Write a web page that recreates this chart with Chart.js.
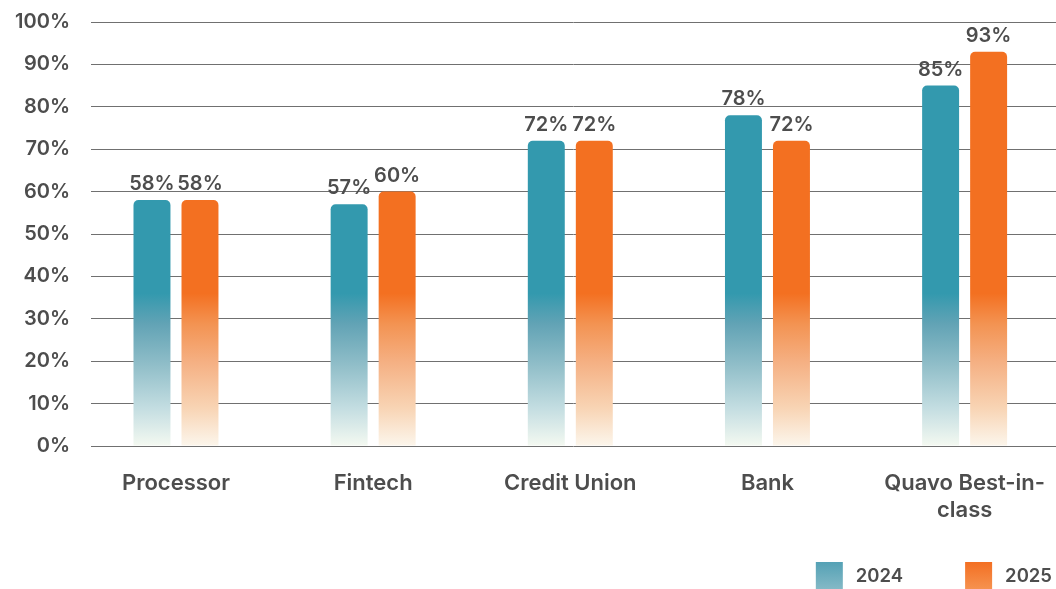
<!DOCTYPE html>
<html>
<head>
<meta charset="utf-8">
<script src="https://cdn.jsdelivr.net/npm/chart.js@4"></script>
<style>
  html, body { margin: 0; padding: 0; background: #fff; }
  #wrap { width: 1056px; height: 589px; position: relative; }
</style>
</head>
<body>
<div id="wrap"><canvas id="rateChart"></canvas></div>
<script>
const categories = ['Processor', 'Fintech', 'Credit Union', 'Bank', ['Quavo Best-in-', 'class']];
const years = ['2024', '2025'];
const values2024 = [58, 57, 72, 78, 85];
const values2025 = [58, 60, 72, 72, 93];
const yTicks = [0, 10, 20, 30, 40, 50, 60, 70, 80, 90, 100];

const TEXT = '#4d4d4d';
const FONT = 'Inter, "Liberation Sans", sans-serif';

// teal / orange fades towards the base of the plot
const fades = {
    teal: [[0, '#f4f9f1'], [0.25, '#c3dde1'], [0.55, '#8dbcc7'], [0.8, '#62a3b5'], [1, '#3399ae']],
    orange: [[0, '#fcf6ec'], [0.25, '#f8d4b4'], [0.55, '#f5b083'], [0.8, '#f39352'], [1, '#f37021']]
};
const keyColors = {
    teal: ['#54a1b5', '#84b9c6'],
    orange: ['#f36f22', '#f6924f']
};

function barFill(name) {
    return (c) => {
        const chart = c.chart;
        const area = chart.chartArea;
        if (!area) return fades[name][4][1];
        const y = chart.scales.y;
        const g = chart.ctx.createLinearGradient(0, y.getPixelForValue(0), 0, y.getPixelForValue(36));
        fades[name].forEach(([p, col]) => g.addColorStop(p, col));
        return g;
    };
}

// percentages above each bar
const valueLabels = {
    id: 'valueLabels',
    afterDatasetsDraw(chart) {
        const ctx = chart.ctx;
        ctx.save();
        ctx.font = '600 20px ' + FONT;
        ctx.fillStyle = TEXT;
        ctx.textAlign = 'center';
        ctx.textBaseline = 'alphabetic';
        chart.data.datasets.forEach((ds, i) => {
            chart.getDatasetMeta(i).data.forEach((bar, j) => {
                ctx.fillText(ds.data[j].y + '%', bar.x, bar.y - 10);
            });
        });
        ctx.restore();
    }
};

// legend keys in the bottom right corner
const cornerLegend = {
    id: 'cornerLegend',
    afterDraw(chart) {
        const ctx = chart.ctx;
        const box = 27;
        ctx.save();
        ctx.font = '600 18.5px ' + FONT;
        ctx.textBaseline = 'middle';
        ctx.textAlign = 'left';
        let right = chart.width - 4;
        const items = chart.data.datasets.map(ds => ds).reverse();
        items.forEach((ds) => {
            const w = ctx.measureText(ds.label).width;
            const textX = right - w;
            const boxX = textX - 13 - box;
            const top = chart.height - box;
            const cols = keyColors[ds.key];
            const g = ctx.createLinearGradient(0, top, 0, top + box);
            g.addColorStop(0, cols[0]);
            g.addColorStop(1, cols[1]);
            ctx.fillStyle = g;
            ctx.fillRect(boxX, top, box, box);
            ctx.fillStyle = TEXT;
            ctx.fillText(ds.label, textX, top + box / 2 + 1);
            right = boxX - 62;
        });
        ctx.restore();
    }
};

const toPoints = arr => arr.map((v, i) => ({ x: i, y: v }));

new Chart(document.getElementById('rateChart'), {
    type: 'bar',
    data: {
        datasets: [
            {
                label: years[0],
                key: 'teal',
                data: toPoints(values2024),
                backgroundColor: barFill('teal'),
                borderRadius: 5,
                categoryPercentage: 0.487,
                barPercentage: 0.77
            },
            {
                label: years[1],
                key: 'orange',
                data: toPoints(values2025),
                backgroundColor: barFill('orange'),
                borderRadius: 5,
                categoryPercentage: 0.487,
                barPercentage: 0.77
            }
        ]
    },
    options: {
        responsive: true,
        maintainAspectRatio: false,
        animation: false,
        layout: { padding: { top: 22, right: 0, bottom: 43, left: 0 } },
        plugins: {
            legend: { display: false },
            tooltip: { enabled: false }
        },
        scales: {
            x: {
                type: 'linear',
                offset: false,
                min: -0.431,
                max: 4.4635,
                afterBuildTicks: s => { s.ticks = categories.map((c, i) => ({ value: i })); },
                afterFit: s => {
                    s.height = 100;
                    s.paddingLeft = 0;
                    s.paddingRight = 0;
                },
                grid: { display: false, drawTicks: false, offset: false },
                border: { display: false },
                ticks: {
                    autoSkip: false,
                    maxRotation: 0,
                    padding: 24,
                    color: TEXT,
                    font: { family: FONT, size: 22, weight: '600', lineHeight: 1.23 },
                    callback: v => categories[v]
                }
            },
            y: {
                min: 0,
                max: 100,
                afterBuildTicks: s => { s.ticks = yTicks.map(v => ({ value: v })); },
                afterFit: s => {
                    s.width = 91;
                    s.paddingTop = 0;
                    s.paddingBottom = 0;
                },
                grid: { color: '#707070', lineWidth: 1, drawTicks: false },
                border: { display: false },
                ticks: {
                    padding: 21,
                    color: TEXT,
                    font: { family: FONT, size: 20, weight: '600' },
                    callback: v => v + '%'
                }
            }
        }
    },
    plugins: [valueLabels, cornerLegend]
});
</script>
</body>
</html>
